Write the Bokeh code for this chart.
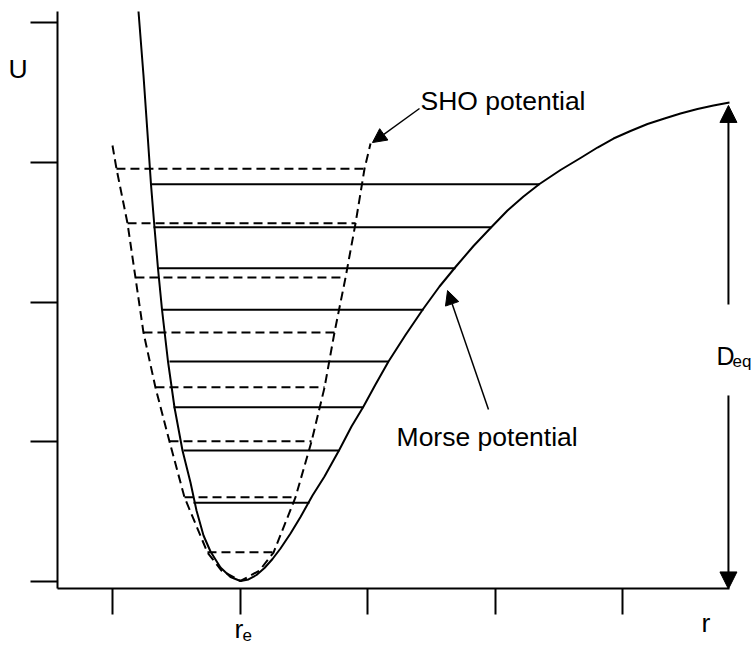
from bokeh.plotting import figure
from bokeh.models import Range1d, LinearAxis, FixedTicker, Label, Arrow, NormalHead
from bokeh.embed import file_html
from bokeh.resources import INLINE

# ---- data ----
x_ticks = [1, 2, 3, 4, 5]
y_ticks = [0, 1, 2, 3, 4]

# Morse potential curve (r, U)
morse_r = [1.2000, 1.2392, 1.2745, 1.2980, 1.3255, 1.3529, 1.3843, 1.4314, 1.4824, 1.5451,
           1.6078, 1.6549, 1.7098, 1.7647, 1.8431, 1.9216, 2.0000,
           2.0627, 2.1255, 2.1882, 2.2510, 2.3137, 2.3922, 2.4706, 2.5647, 2.6588, 2.7765,
           2.8706, 2.9647, 3.0588, 3.1608, 3.2941, 3.4353, 3.5608, 3.6863, 3.8275, 3.9686,
           4.0941, 4.2196, 4.3451, 4.5098, 4.6667, 4.8000, 4.9255, 5.0588, 5.1922, 5.3255,
           5.4510, 5.5843, 5.7098, 5.8353]
morse_u = [4.0824, 3.6237, 3.1577, 2.8423, 2.5341, 2.2401, 1.9462, 1.5735, 1.2437, 0.9355,
           0.7061, 0.5054, 0.3262, 0.2115, 0.0968, 0.0287, 0.0000,
           0.0108, 0.0430, 0.0932, 0.1577, 0.2330, 0.3405, 0.4588, 0.6129, 0.7491, 0.9427,
           1.1075, 1.2509, 1.4086, 1.5735, 1.7634, 1.9534, 2.1111, 2.2509, 2.4014, 2.5376,
           2.6559, 2.7563, 2.8459, 2.9462, 3.0323, 3.1075, 3.1720, 3.2258, 3.2760, 3.3154,
           3.3513, 3.3835, 3.4086, 3.4301]

# SHO (harmonic) potential curve (r, U)
sho_r = [0.996, 1.027, 1.114, 1.176, 1.239, 1.333, 1.443, 1.561, 1.741, 1.851, 2.000,
         2.149, 2.259, 2.431, 2.557, 2.659, 2.737, 2.824, 2.902, 2.973, 3.020]
sho_u = [3.122, 2.957, 2.563, 2.176, 1.781, 1.387, 1.000, 0.599, 0.204, 0.075, 0.000,
         0.075, 0.204, 0.599, 1.000, 1.387, 1.781, 2.176, 2.563, 2.957, 3.136]

# Morse vibrational levels
morse_level_u = [0.561, 0.935, 1.246, 1.573, 1.944, 2.242, 2.536, 2.844]
morse_level_r0 = [1.631, 1.553, 1.475, 1.443, 1.388, 1.357, 1.318, 1.302]
morse_level_r1 = [2.541, 2.776, 2.965, 3.161, 3.435, 3.686, 3.969, 4.345]

# SHO vibrational levels
sho_level_u = [0.206, 0.601, 1.002, 1.389, 1.781, 2.176, 2.565, 2.955]
sho_level_r0 = [1.741, 1.561, 1.443, 1.333, 1.239, 1.176, 1.114, 1.027]
sho_level_r1 = [2.259, 2.431, 2.557, 2.659, 2.737, 2.824, 2.902, 2.973]

# axis extents (data units)
x_axis_bounds = (0.5647, 5.839)
y_axis_bounds = (-0.0573, 4.082)

FONT = "Liberation Sans"

p = figure(width=756, height=647,
           x_range=Range1d(0.11765, 6.04706), y_range=Range1d(-0.47670, 4.16129),
           output_backend="svg", toolbar_location=None,
           x_axis_type=None, y_axis_type=None, min_border=0)
p.outline_line_color = None
p.background_fill_color = "white"
p.border_fill_color = "white"

# axes drawn at fixed positions inside the full-canvas frame
yax = LinearAxis(ticker=FixedTicker(ticks=y_ticks), fixed_location=x_axis_bounds[0],
                 bounds=y_axis_bounds,
                 major_label_overrides={t: "" for t in y_ticks})
xax = LinearAxis(ticker=FixedTicker(ticks=x_ticks), fixed_location=y_axis_bounds[0],
                 bounds=x_axis_bounds,
                 major_label_overrides={t: "" for t in x_ticks})
for ax, tout in ((yax, 27), (xax, 26)):
    ax.axis_line_width = 2
    ax.axis_line_color = "black"
    ax.major_tick_line_width = 2
    ax.major_tick_line_color = "black"
    ax.major_tick_out = tout
    ax.major_tick_in = 0
    ax.minor_tick_line_color = None
    ax.major_label_standoff = 0
p.add_layout(yax, "left")
p.add_layout(xax, "below")

# curves
p.line(morse_r, morse_u, line_color="black", line_width=2, line_join="round")
p.line(sho_r, sho_u, line_color="black", line_width=2, line_dash="9 5")

# levels
p.segment(x0=morse_level_r0, y0=morse_level_u, x1=morse_level_r1, y1=morse_level_u,
          line_color="black", line_width=2)
p.segment(x0=sho_level_r0, y0=sho_level_u, x1=sho_level_r1, y1=sho_level_u,
          line_color="black", line_width=2, line_dash="9 5")

# annotation arrows
p.add_layout(Arrow(end=NormalHead(size=14, fill_color="black", line_color="black"),
                   x_start=3.404, y_start=3.387, x_end=3.035, y_end=3.143,
                   line_width=1.5, line_color="black"))
p.add_layout(Arrow(end=NormalHead(size=14, fill_color="black", line_color="black"),
                   x_start=3.945, y_start=1.229, x_end=3.624, y_end=2.082,
                   line_width=1.5, line_color="black"))
# D_eq double arrow
p.add_layout(Arrow(end=NormalHead(size=17, fill_color="black", line_color="black"),
                   x_start=5.827, y_start=1.982, x_end=5.827, y_end=3.409,
                   line_width=2, line_color="black"))
p.add_layout(Arrow(end=NormalHead(size=17, fill_color="black", line_color="black"),
                   x_start=5.827, y_start=1.330, x_end=5.827, y_end=-0.057,
                   line_width=2, line_color="black"))

# texts
def lab(x, y, text, size="26.5px"):
    p.add_layout(Label(x=x, y=y, text=text, text_font=FONT, text_font_size=size,
                       text_color="black", text_align="left", text_baseline="alphabetic"))

lab(3.412, 3.444, "SHO potential")
lab(3.224, 1.029, "Morse potential")
lab(0.1804, 3.667, "U")
lab(5.733, 1.616, "D", "25px")
lab(5.859, 1.573, "eq", "17px")
lab(5.616, -0.2975, "r")
lab(1.9529, -0.341, "r")
lab(2.0157, -0.384, "e", "17px")

open("out.html", "w").write(file_html(p, INLINE))
